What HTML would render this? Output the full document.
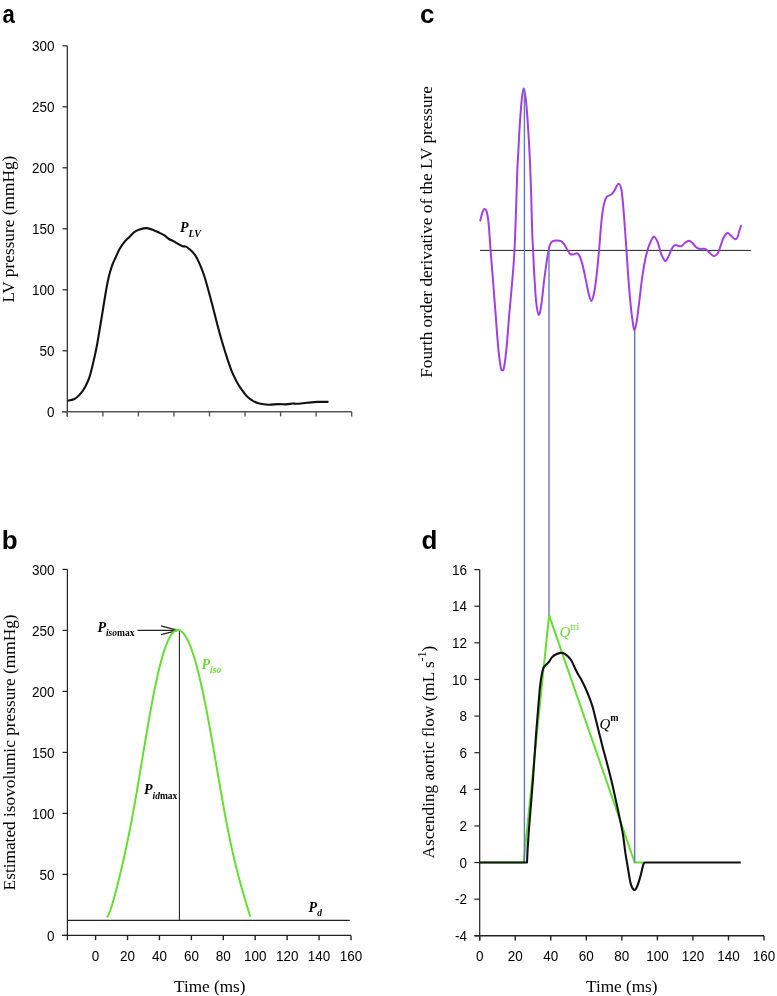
<!DOCTYPE html>
<html><head><meta charset="utf-8"><style>
html,body{margin:0;padding:0;background:#fff;}
svg{display:block;will-change:transform;}
</style></head><body>
<svg width="777" height="996" viewBox="0 0 777 996">
<rect width="777" height="996" fill="#fff"/>
<text x="2.60" y="22.80" font-family='"Liberation Sans", sans-serif' font-size="26.00" text-anchor="start" font-weight="bold" font-style="normal" fill="#000" transform="translate(2.6,0) scale(0.85,1) translate(-2.6,0)">a</text>
<text x="1.80" y="548.70" font-family='"Liberation Sans", sans-serif' font-size="26.00" text-anchor="start" font-weight="bold" font-style="normal" fill="#000" >b</text>
<text x="420.00" y="22.90" font-family='"Liberation Sans", sans-serif' font-size="26.00" text-anchor="start" font-weight="bold" font-style="normal" fill="#000" >c</text>
<text x="421.60" y="548.50" font-family='"Liberation Sans", sans-serif' font-size="26.00" text-anchor="start" font-weight="bold" font-style="normal" fill="#000" >d</text>
<line x1="67.30" y1="45.70" x2="67.30" y2="416.50" stroke="#222" stroke-width="1.20" />
<line x1="62.50" y1="411.80" x2="67.30" y2="411.80" stroke="#222" stroke-width="1.20" />
<text transform="translate(54.50,417.00) scale(0.900,1)" font-family='"Liberation Sans", sans-serif' font-size="15.00" text-anchor="end" fill="#000">0</text>
<line x1="62.50" y1="350.80" x2="67.30" y2="350.80" stroke="#222" stroke-width="1.20" />
<text transform="translate(54.50,356.00) scale(0.900,1)" font-family='"Liberation Sans", sans-serif' font-size="15.00" text-anchor="end" fill="#000">50</text>
<line x1="62.50" y1="289.80" x2="67.30" y2="289.80" stroke="#222" stroke-width="1.20" />
<text transform="translate(54.50,295.00) scale(0.900,1)" font-family='"Liberation Sans", sans-serif' font-size="15.00" text-anchor="end" fill="#000">100</text>
<line x1="62.50" y1="228.80" x2="67.30" y2="228.80" stroke="#222" stroke-width="1.20" />
<text transform="translate(54.50,234.00) scale(0.900,1)" font-family='"Liberation Sans", sans-serif' font-size="15.00" text-anchor="end" fill="#000">150</text>
<line x1="62.50" y1="167.80" x2="67.30" y2="167.80" stroke="#222" stroke-width="1.20" />
<text transform="translate(54.50,173.00) scale(0.900,1)" font-family='"Liberation Sans", sans-serif' font-size="15.00" text-anchor="end" fill="#000">200</text>
<line x1="62.50" y1="106.80" x2="67.30" y2="106.80" stroke="#222" stroke-width="1.20" />
<text transform="translate(54.50,112.00) scale(0.900,1)" font-family='"Liberation Sans", sans-serif' font-size="15.00" text-anchor="end" fill="#000">250</text>
<line x1="62.50" y1="45.80" x2="67.30" y2="45.80" stroke="#222" stroke-width="1.20" />
<text transform="translate(54.50,51.00) scale(0.900,1)" font-family='"Liberation Sans", sans-serif' font-size="15.00" text-anchor="end" fill="#000">300</text>
<line x1="62.20" y1="411.80" x2="351.70" y2="411.80" stroke="#555" stroke-width="1.60" />
<line x1="67.30" y1="411.80" x2="67.30" y2="416.40" stroke="#555" stroke-width="1.40" />
<line x1="102.85" y1="411.80" x2="102.85" y2="416.40" stroke="#555" stroke-width="1.40" />
<line x1="138.40" y1="411.80" x2="138.40" y2="416.40" stroke="#555" stroke-width="1.40" />
<line x1="173.95" y1="411.80" x2="173.95" y2="416.40" stroke="#555" stroke-width="1.40" />
<line x1="209.50" y1="411.80" x2="209.50" y2="416.40" stroke="#555" stroke-width="1.40" />
<line x1="245.05" y1="411.80" x2="245.05" y2="416.40" stroke="#555" stroke-width="1.40" />
<line x1="280.60" y1="411.80" x2="280.60" y2="416.40" stroke="#555" stroke-width="1.40" />
<line x1="316.15" y1="411.80" x2="316.15" y2="416.40" stroke="#555" stroke-width="1.40" />
<line x1="351.70" y1="411.80" x2="351.70" y2="416.40" stroke="#555" stroke-width="1.40" />
<text transform="translate(14.3,302.6) rotate(-90)" font-family='"Liberation Serif", serif' font-size="17.3" fill="#000">LV pressure (mmHg)</text>
<line x1="67.40" y1="569.40" x2="67.40" y2="940.20" stroke="#222" stroke-width="1.20" />
<line x1="62.50" y1="935.40" x2="67.40" y2="935.40" stroke="#222" stroke-width="1.20" />
<text transform="translate(54.50,940.60) scale(0.900,1)" font-family='"Liberation Sans", sans-serif' font-size="15.00" text-anchor="end" fill="#000">0</text>
<line x1="62.50" y1="874.40" x2="67.40" y2="874.40" stroke="#222" stroke-width="1.20" />
<text transform="translate(54.50,879.60) scale(0.900,1)" font-family='"Liberation Sans", sans-serif' font-size="15.00" text-anchor="end" fill="#000">50</text>
<line x1="62.50" y1="813.40" x2="67.40" y2="813.40" stroke="#222" stroke-width="1.20" />
<text transform="translate(54.50,818.60) scale(0.900,1)" font-family='"Liberation Sans", sans-serif' font-size="15.00" text-anchor="end" fill="#000">100</text>
<line x1="62.50" y1="752.40" x2="67.40" y2="752.40" stroke="#222" stroke-width="1.20" />
<text transform="translate(54.50,757.60) scale(0.900,1)" font-family='"Liberation Sans", sans-serif' font-size="15.00" text-anchor="end" fill="#000">150</text>
<line x1="62.50" y1="691.40" x2="67.40" y2="691.40" stroke="#222" stroke-width="1.20" />
<text transform="translate(54.50,696.60) scale(0.900,1)" font-family='"Liberation Sans", sans-serif' font-size="15.00" text-anchor="end" fill="#000">200</text>
<line x1="62.50" y1="630.40" x2="67.40" y2="630.40" stroke="#222" stroke-width="1.20" />
<text transform="translate(54.50,635.60) scale(0.900,1)" font-family='"Liberation Sans", sans-serif' font-size="15.00" text-anchor="end" fill="#000">250</text>
<line x1="62.50" y1="569.40" x2="67.40" y2="569.40" stroke="#222" stroke-width="1.20" />
<text transform="translate(54.50,574.60) scale(0.900,1)" font-family='"Liberation Sans", sans-serif' font-size="15.00" text-anchor="end" fill="#000">300</text>
<line x1="62.20" y1="935.40" x2="351.00" y2="935.40" stroke="#222" stroke-width="1.40" />
<line x1="95.60" y1="935.40" x2="95.60" y2="940.20" stroke="#222" stroke-width="1.40" />
<text transform="translate(95.60,960.60) scale(0.900,1)" font-family='"Liberation Sans", sans-serif' font-size="15.00" text-anchor="middle" fill="#000">0</text>
<line x1="127.52" y1="935.40" x2="127.52" y2="940.20" stroke="#222" stroke-width="1.40" />
<text transform="translate(127.52,960.60) scale(0.900,1)" font-family='"Liberation Sans", sans-serif' font-size="15.00" text-anchor="middle" fill="#000">20</text>
<line x1="159.45" y1="935.40" x2="159.45" y2="940.20" stroke="#222" stroke-width="1.40" />
<text transform="translate(159.45,960.60) scale(0.900,1)" font-family='"Liberation Sans", sans-serif' font-size="15.00" text-anchor="middle" fill="#000">40</text>
<line x1="191.38" y1="935.40" x2="191.38" y2="940.20" stroke="#222" stroke-width="1.40" />
<text transform="translate(191.38,960.60) scale(0.900,1)" font-family='"Liberation Sans", sans-serif' font-size="15.00" text-anchor="middle" fill="#000">60</text>
<line x1="223.30" y1="935.40" x2="223.30" y2="940.20" stroke="#222" stroke-width="1.40" />
<text transform="translate(223.30,960.60) scale(0.900,1)" font-family='"Liberation Sans", sans-serif' font-size="15.00" text-anchor="middle" fill="#000">80</text>
<line x1="255.22" y1="935.40" x2="255.22" y2="940.20" stroke="#222" stroke-width="1.40" />
<text transform="translate(255.22,960.60) scale(0.900,1)" font-family='"Liberation Sans", sans-serif' font-size="15.00" text-anchor="middle" fill="#000">100</text>
<line x1="287.15" y1="935.40" x2="287.15" y2="940.20" stroke="#222" stroke-width="1.40" />
<text transform="translate(287.15,960.60) scale(0.900,1)" font-family='"Liberation Sans", sans-serif' font-size="15.00" text-anchor="middle" fill="#000">120</text>
<line x1="319.07" y1="935.40" x2="319.07" y2="940.20" stroke="#222" stroke-width="1.40" />
<text transform="translate(319.07,960.60) scale(0.900,1)" font-family='"Liberation Sans", sans-serif' font-size="15.00" text-anchor="middle" fill="#000">140</text>
<line x1="351.00" y1="935.40" x2="351.00" y2="940.20" stroke="#222" stroke-width="1.40" />
<text transform="translate(351.00,960.60) scale(0.900,1)" font-family='"Liberation Sans", sans-serif' font-size="15.00" text-anchor="middle" fill="#000">160</text>
<text transform="translate(14.5,890.4) rotate(-90)" font-family='"Liberation Serif", serif' font-size="17.3" fill="#000">Estimated isovolumic pressure (mmHg)</text>
<text x="209.80" y="991.80" font-family='"Liberation Serif", serif' font-size="17.20" text-anchor="middle" font-weight="normal" font-style="normal" fill="#000" >Time (ms)</text>
<line x1="479.70" y1="569.60" x2="479.70" y2="940.40" stroke="#222" stroke-width="1.20" />
<line x1="474.40" y1="569.60" x2="479.70" y2="569.60" stroke="#222" stroke-width="1.20" />
<text transform="translate(466.90,574.80) scale(0.900,1)" font-family='"Liberation Sans", sans-serif' font-size="15.00" text-anchor="end" fill="#000">16</text>
<line x1="474.40" y1="606.22" x2="479.70" y2="606.22" stroke="#222" stroke-width="1.20" />
<text transform="translate(466.90,611.42) scale(0.900,1)" font-family='"Liberation Sans", sans-serif' font-size="15.00" text-anchor="end" fill="#000">14</text>
<line x1="474.40" y1="642.84" x2="479.70" y2="642.84" stroke="#222" stroke-width="1.20" />
<text transform="translate(466.90,648.04) scale(0.900,1)" font-family='"Liberation Sans", sans-serif' font-size="15.00" text-anchor="end" fill="#000">12</text>
<line x1="474.40" y1="679.46" x2="479.70" y2="679.46" stroke="#222" stroke-width="1.20" />
<text transform="translate(466.90,684.66) scale(0.900,1)" font-family='"Liberation Sans", sans-serif' font-size="15.00" text-anchor="end" fill="#000">10</text>
<line x1="474.40" y1="716.08" x2="479.70" y2="716.08" stroke="#222" stroke-width="1.20" />
<text transform="translate(466.90,721.28) scale(0.900,1)" font-family='"Liberation Sans", sans-serif' font-size="15.00" text-anchor="end" fill="#000">8</text>
<line x1="474.40" y1="752.70" x2="479.70" y2="752.70" stroke="#222" stroke-width="1.20" />
<text transform="translate(466.90,757.90) scale(0.900,1)" font-family='"Liberation Sans", sans-serif' font-size="15.00" text-anchor="end" fill="#000">6</text>
<line x1="474.40" y1="789.32" x2="479.70" y2="789.32" stroke="#222" stroke-width="1.20" />
<text transform="translate(466.90,794.52) scale(0.900,1)" font-family='"Liberation Sans", sans-serif' font-size="15.00" text-anchor="end" fill="#000">4</text>
<line x1="474.40" y1="825.94" x2="479.70" y2="825.94" stroke="#222" stroke-width="1.20" />
<text transform="translate(466.90,831.14) scale(0.900,1)" font-family='"Liberation Sans", sans-serif' font-size="15.00" text-anchor="end" fill="#000">2</text>
<line x1="474.40" y1="862.56" x2="479.70" y2="862.56" stroke="#222" stroke-width="1.20" />
<text transform="translate(466.90,867.76) scale(0.900,1)" font-family='"Liberation Sans", sans-serif' font-size="15.00" text-anchor="end" fill="#000">0</text>
<line x1="474.40" y1="899.18" x2="479.70" y2="899.18" stroke="#222" stroke-width="1.20" />
<text transform="translate(466.90,904.38) scale(0.900,1)" font-family='"Liberation Sans", sans-serif' font-size="15.00" text-anchor="end" fill="#000">-2</text>
<line x1="474.40" y1="935.80" x2="479.70" y2="935.80" stroke="#222" stroke-width="1.20" />
<text transform="translate(466.90,941.00) scale(0.900,1)" font-family='"Liberation Sans", sans-serif' font-size="15.00" text-anchor="end" fill="#000">-4</text>
<line x1="474.50" y1="935.80" x2="764.00" y2="935.80" stroke="#222" stroke-width="1.40" />
<line x1="479.70" y1="935.80" x2="479.70" y2="940.40" stroke="#222" stroke-width="1.40" />
<text transform="translate(479.70,960.60) scale(0.900,1)" font-family='"Liberation Sans", sans-serif' font-size="15.00" text-anchor="middle" fill="#000">0</text>
<line x1="515.24" y1="935.80" x2="515.24" y2="940.40" stroke="#222" stroke-width="1.40" />
<text transform="translate(515.24,960.60) scale(0.900,1)" font-family='"Liberation Sans", sans-serif' font-size="15.00" text-anchor="middle" fill="#000">20</text>
<line x1="550.78" y1="935.80" x2="550.78" y2="940.40" stroke="#222" stroke-width="1.40" />
<text transform="translate(550.78,960.60) scale(0.900,1)" font-family='"Liberation Sans", sans-serif' font-size="15.00" text-anchor="middle" fill="#000">40</text>
<line x1="586.32" y1="935.80" x2="586.32" y2="940.40" stroke="#222" stroke-width="1.40" />
<text transform="translate(586.32,960.60) scale(0.900,1)" font-family='"Liberation Sans", sans-serif' font-size="15.00" text-anchor="middle" fill="#000">60</text>
<line x1="621.86" y1="935.80" x2="621.86" y2="940.40" stroke="#222" stroke-width="1.40" />
<text transform="translate(621.86,960.60) scale(0.900,1)" font-family='"Liberation Sans", sans-serif' font-size="15.00" text-anchor="middle" fill="#000">80</text>
<line x1="657.40" y1="935.80" x2="657.40" y2="940.40" stroke="#222" stroke-width="1.40" />
<text transform="translate(657.40,960.60) scale(0.900,1)" font-family='"Liberation Sans", sans-serif' font-size="15.00" text-anchor="middle" fill="#000">100</text>
<line x1="692.94" y1="935.80" x2="692.94" y2="940.40" stroke="#222" stroke-width="1.40" />
<text transform="translate(692.94,960.60) scale(0.900,1)" font-family='"Liberation Sans", sans-serif' font-size="15.00" text-anchor="middle" fill="#000">120</text>
<line x1="728.48" y1="935.80" x2="728.48" y2="940.40" stroke="#222" stroke-width="1.40" />
<text transform="translate(728.48,960.60) scale(0.900,1)" font-family='"Liberation Sans", sans-serif' font-size="15.00" text-anchor="middle" fill="#000">140</text>
<line x1="764.02" y1="935.80" x2="764.02" y2="940.40" stroke="#222" stroke-width="1.40" />
<text transform="translate(764.02,960.60) scale(0.900,1)" font-family='"Liberation Sans", sans-serif' font-size="15.00" text-anchor="middle" fill="#000">160</text>
<text x="621.80" y="991.80" font-family='"Liberation Serif", serif' font-size="17.20" text-anchor="middle" font-weight="normal" font-style="normal" fill="#000" >Time (ms)</text>
<text transform="translate(434.3,858.4) rotate(-90)" font-family='"Liberation Serif", serif' font-size="17.2" fill="#000">Ascending aortic flow (mL s<tspan font-size="12" dy="-8">-1</tspan><tspan dy="8">)</tspan></text>
<text transform="translate(432.2,377.8) rotate(-90)" font-family='"Liberation Serif", serif' font-size="17.3" fill="#000">Fourth order derivative of the LV pressure</text>
<line x1="480.00" y1="250.40" x2="750.80" y2="250.40" stroke="#222" stroke-width="1.00" />
<path d="M480.30,220.50 C480.68,219.07 481.90,213.80 482.60,211.90 C483.30,210.00 483.80,209.10 484.50,209.10 C485.20,209.10 486.10,209.37 486.80,211.90 C487.50,214.43 488.07,217.90 488.70,224.30 C489.33,230.70 489.87,240.75 490.60,250.30 C491.33,259.85 492.27,270.98 493.10,281.60 C493.93,292.22 494.73,302.88 495.60,314.00 C496.47,325.12 497.43,339.40 498.30,348.30 C499.17,357.20 500.13,363.73 500.80,367.40 C501.47,371.07 501.77,370.30 502.30,370.30 C502.83,370.30 503.30,371.07 504.00,367.40 C504.70,363.73 505.62,357.20 506.50,348.30 C507.38,339.40 508.35,325.12 509.30,314.00 C510.25,302.88 511.33,292.22 512.20,281.60 C513.07,270.98 513.80,264.02 514.50,250.30 C515.20,236.58 515.93,212.62 516.40,199.30 C516.87,185.98 516.98,178.23 517.30,170.40 C517.62,162.57 517.98,158.33 518.30,152.30 C518.62,146.27 518.85,140.23 519.20,134.20 C519.55,128.17 519.95,122.12 520.40,116.10 C520.85,110.08 521.35,102.75 521.90,98.10 C522.45,93.45 523.07,88.20 523.70,88.20 C524.33,88.20 525.10,93.45 525.70,98.10 C526.30,102.75 526.83,110.08 527.30,116.10 C527.77,122.12 528.13,128.17 528.50,134.20 C528.87,140.23 529.20,146.27 529.50,152.30 C529.80,158.33 530.00,162.57 530.30,170.40 C530.60,178.23 531.00,189.37 531.30,199.30 C531.60,209.23 531.80,221.45 532.10,230.00 C532.40,238.55 532.72,242.88 533.10,250.60 C533.48,258.32 533.88,267.72 534.40,276.30 C534.92,284.88 535.47,295.67 536.20,302.10 C536.93,308.53 537.93,314.57 538.80,314.90 C539.67,315.23 540.53,309.67 541.40,304.10 C542.27,298.53 543.15,288.37 544.00,281.50 C544.85,274.63 545.73,268.13 546.50,262.90 C547.27,257.67 548.00,253.18 548.60,250.10 C549.20,247.02 549.42,245.90 550.10,244.40 C550.78,242.90 551.58,241.75 552.70,241.10 C553.82,240.45 555.43,240.50 556.80,240.50 C558.17,240.50 559.70,240.53 560.90,241.10 C562.10,241.67 562.97,242.48 564.00,243.90 C565.03,245.32 566.07,247.93 567.10,249.60 C568.13,251.27 569.17,253.08 570.20,253.90 C571.23,254.72 572.18,254.62 573.30,254.50 C574.42,254.38 575.87,253.00 576.90,253.20 C577.93,253.40 578.55,253.73 579.50,255.70 C580.45,257.67 581.57,261.05 582.60,265.00 C583.63,268.95 584.68,274.60 585.70,279.40 C586.72,284.20 587.77,290.20 588.70,293.80 C589.63,297.40 590.43,301.00 591.30,301.00 C592.17,301.00 593.03,297.92 593.90,293.80 C594.77,289.68 595.65,283.50 596.50,276.30 C597.35,269.10 598.15,259.98 599.00,250.60 C599.85,241.22 600.77,227.78 601.60,220.00 C602.43,212.22 603.12,207.78 604.00,203.90 C604.88,200.02 605.68,198.25 606.90,196.70 C608.12,195.15 610.03,195.67 611.30,194.60 C612.57,193.53 613.30,192.10 614.50,190.30 C615.70,188.50 617.35,183.93 618.50,183.80 C619.65,183.67 620.60,185.62 621.40,189.50 C622.20,193.38 622.72,200.68 623.30,207.10 C623.88,213.52 624.37,220.77 624.90,228.00 C625.43,235.23 625.97,242.73 626.50,250.50 C627.03,258.27 627.48,266.30 628.10,274.60 C628.72,282.90 629.45,292.53 630.20,300.30 C630.95,308.07 631.87,316.25 632.60,321.20 C633.33,326.15 633.87,330.27 634.60,330.00 C635.33,329.73 636.20,324.55 637.00,319.60 C637.80,314.65 638.47,307.80 639.40,300.30 C640.33,292.80 641.53,281.83 642.60,274.60 C643.67,267.37 644.73,261.72 645.80,256.90 C646.87,252.08 647.67,249.05 649.00,245.70 C650.33,242.35 652.33,237.33 653.80,236.80 C655.27,236.27 656.58,239.68 657.80,242.50 C659.02,245.32 659.88,250.62 661.10,253.70 C662.32,256.78 663.93,260.42 665.10,261.00 C666.27,261.58 667.08,259.03 668.10,257.20 C669.12,255.37 670.25,251.88 671.20,250.00 C672.15,248.12 673.03,246.75 673.80,245.90 C674.57,245.05 675.03,244.90 675.80,244.90 C676.57,244.90 677.45,245.70 678.40,245.90 C679.35,246.10 680.38,246.62 681.50,246.10 C682.62,245.58 683.82,243.70 685.10,242.80 C686.38,241.90 687.92,240.62 689.20,240.70 C690.48,240.78 691.68,242.27 692.80,243.30 C693.92,244.33 694.87,245.98 695.90,246.90 C696.93,247.82 697.80,248.48 699.00,248.80 C700.20,249.12 701.90,248.68 703.10,248.80 C704.30,248.92 705.17,248.87 706.20,249.50 C707.23,250.13 708.02,251.48 709.30,252.60 C710.58,253.72 712.53,256.03 713.90,256.20 C715.27,256.37 716.55,254.80 717.50,253.60 C718.45,252.40 718.73,251.32 719.60,249.00 C720.47,246.68 721.77,242.02 722.70,239.70 C723.63,237.38 724.35,236.22 725.20,235.10 C726.05,233.98 726.85,232.92 727.80,233.00 C728.75,233.08 729.70,234.57 730.90,235.60 C732.10,236.63 733.88,238.95 735.00,239.20 C736.12,239.45 736.92,238.38 737.60,237.10 C738.28,235.82 738.53,233.38 739.10,231.50 C739.67,229.62 740.68,226.75 741.00,225.80" fill="none" stroke="#a040e0" stroke-width="2" stroke-linejoin="round" stroke-linecap="round"/>
<path d="M67.50,400.80 C68.57,400.55 71.90,400.28 73.90,399.30 C75.90,398.32 77.65,396.92 79.50,394.90 C81.35,392.88 83.35,390.13 85.00,387.20 C86.65,384.27 88.18,380.77 89.40,377.30 C90.62,373.83 91.40,369.98 92.30,366.40 C93.20,362.82 94.00,359.45 94.80,355.80 C95.60,352.15 96.33,348.63 97.10,344.50 C97.87,340.37 98.60,335.75 99.40,331.00 C100.20,326.25 101.07,321.08 101.90,316.00 C102.73,310.92 103.63,305.17 104.40,300.50 C105.17,295.83 105.83,291.68 106.50,288.00 C107.17,284.32 107.73,281.32 108.40,278.40 C109.07,275.48 109.77,272.97 110.50,270.50 C111.23,268.03 111.97,265.72 112.80,263.60 C113.63,261.48 114.42,260.15 115.50,257.80 C116.58,255.45 117.83,252.12 119.30,249.50 C120.77,246.88 122.57,244.23 124.30,242.10 C126.03,239.97 128.05,238.35 129.70,236.70 C131.35,235.05 132.55,233.40 134.20,232.20 C135.85,231.00 137.50,230.18 139.60,229.50 C141.70,228.82 144.38,227.95 146.80,228.10 C149.22,228.25 151.90,229.57 154.10,230.40 C156.30,231.23 158.27,232.27 160.00,233.10 C161.73,233.93 163.00,234.42 164.50,235.40 C166.00,236.38 167.50,238.03 169.00,239.00 C170.50,239.97 172.00,240.38 173.50,241.20 C175.00,242.02 176.50,243.07 178.00,243.90 C179.50,244.73 181.15,245.75 182.50,246.20 C183.85,246.65 184.90,246.08 186.10,246.60 C187.30,247.12 188.50,248.25 189.70,249.30 C190.90,250.35 192.25,251.70 193.30,252.90 C194.35,254.10 195.10,255.00 196.00,256.50 C196.90,258.00 197.80,259.95 198.70,261.90 C199.60,263.85 200.50,265.93 201.40,268.20 C202.30,270.47 203.20,272.78 204.10,275.50 C205.00,278.22 205.45,279.68 206.80,284.50 C208.15,289.32 210.45,297.73 212.20,304.40 C213.95,311.07 215.62,318.15 217.30,324.50 C218.98,330.85 220.63,336.82 222.30,342.50 C223.97,348.18 225.63,353.57 227.30,358.60 C228.97,363.63 230.45,368.35 232.30,372.70 C234.15,377.05 236.47,381.40 238.40,384.70 C240.33,388.00 242.35,390.45 243.90,392.50 C245.45,394.55 246.20,395.60 247.70,397.00 C249.20,398.40 250.97,399.82 252.90,400.90 C254.83,401.98 256.73,402.87 259.30,403.50 C261.87,404.13 265.08,404.60 268.30,404.70 C271.52,404.80 275.60,404.15 278.60,404.10 C281.60,404.05 283.93,404.50 286.30,404.40 C288.67,404.30 291.08,403.60 292.80,403.50 C294.52,403.40 294.25,403.92 296.60,403.80 C298.95,403.68 303.47,403.12 306.90,402.80 C310.33,402.48 314.62,402.05 317.20,401.90 C319.78,401.75 320.52,401.90 322.40,401.90 C324.28,401.90 327.48,401.90 328.50,401.90" fill="none" stroke="#111" stroke-width="2.1" stroke-linejoin="round"/>
<text x="180.0" y="231.9" font-family='"Liberation Serif", serif' font-size="14" font-weight="bold" font-style="italic">P<tspan font-size="10" dy="4.7">LV</tspan></text>
<line x1="67.40" y1="920.40" x2="349.80" y2="920.40" stroke="#222" stroke-width="1.20" />
<line x1="179.40" y1="630.40" x2="179.40" y2="920.40" stroke="#222" stroke-width="1.10" />
<line x1="137.60" y1="630.30" x2="178.00" y2="630.30" stroke="#222" stroke-width="1.30" />
<path d="M161,625.9 L178,630.3 L161,634.6" fill="none" stroke="#222" stroke-width="1.3"/>
<path d="M107.10,917.35 L107.90,916.07 L108.70,914.43 L109.50,912.50 L110.30,910.32 L111.10,907.94 L111.90,905.40 L112.70,902.72 L113.50,899.93 L114.30,897.05 L115.10,894.10 L115.90,891.08 L116.70,888.00 L117.50,884.87 L118.30,881.70 L119.10,878.48 L119.90,875.21 L120.70,871.89 L121.50,868.52 L122.30,865.10 L123.10,861.63 L123.90,858.09 L124.70,854.49 L125.50,850.83 L126.30,847.09 L127.10,843.29 L127.90,839.42 L128.70,835.47 L129.50,831.45 L130.30,827.35 L131.10,823.19 L131.90,818.95 L132.70,814.64 L133.50,810.26 L134.30,805.81 L135.10,801.31 L135.90,796.75 L136.70,792.14 L137.50,787.48 L138.30,782.78 L139.10,778.04 L139.90,773.28 L140.70,768.50 L141.50,763.70 L142.30,758.89 L143.10,754.08 L143.90,749.28 L144.70,744.50 L145.50,739.74 L146.30,735.01 L147.10,730.31 L147.90,725.66 L148.70,721.07 L149.50,716.53 L150.30,712.06 L151.10,707.66 L151.90,703.34 L152.70,699.11 L153.50,694.97 L154.30,690.92 L155.10,686.98 L155.90,683.15 L156.70,679.43 L157.50,675.82 L158.30,672.34 L159.10,668.98 L159.90,665.74 L160.70,662.64 L161.50,659.67 L162.30,656.84 L163.10,654.14 L163.90,651.59 L164.70,649.17 L165.50,646.90 L166.30,644.76 L167.10,642.78 L167.90,640.93 L168.70,639.24 L169.50,637.68 L170.30,636.27 L171.10,635.01 L171.90,633.89 L172.70,632.91 L173.50,632.08 L174.30,631.39 L175.10,630.84 L175.90,630.43 L176.70,630.16 L177.50,630.03 L178.30,630.04 L179.10,630.18 L179.90,630.47 L180.70,630.88 L181.50,631.43 L182.30,632.12 L183.10,632.94 L183.90,633.88 L184.70,634.96 L185.50,636.17 L186.30,637.51 L187.10,638.97 L187.90,640.56 L188.70,642.28 L189.50,644.12 L190.30,646.09 L191.10,648.18 L191.90,650.39 L192.70,652.72 L193.50,655.17 L194.30,657.74 L195.10,660.43 L195.90,663.23 L196.70,666.14 L197.50,669.17 L198.30,672.31 L199.10,675.55 L199.90,678.91 L200.70,682.36 L201.50,685.92 L202.30,689.57 L203.10,693.32 L203.90,697.15 L204.70,701.08 L205.50,705.09 L206.30,709.18 L207.10,713.35 L207.90,717.59 L208.70,721.89 L209.50,726.26 L210.30,730.68 L211.10,735.15 L211.90,739.66 L212.70,744.22 L213.50,748.81 L214.30,753.42 L215.10,758.05 L215.90,762.70 L216.70,767.35 L217.50,772.01 L218.30,776.65 L219.10,781.29 L219.90,785.90 L220.70,790.49 L221.50,795.05 L222.30,799.56 L223.10,804.03 L223.90,808.45 L224.70,812.82 L225.50,817.12 L226.30,821.36 L227.10,825.53 L227.90,829.62 L228.70,833.64 L229.50,837.57 L230.30,841.43 L231.10,845.20 L231.90,848.89 L232.70,852.49 L233.50,856.01 L234.30,859.45 L235.10,862.81 L235.90,866.09 L236.70,869.29 L237.50,872.43 L238.30,875.50 L239.10,878.51 L239.90,881.46 L240.70,884.36 L241.50,887.22 L242.30,890.03 L243.10,892.82 L243.90,895.57 L244.70,898.30 L245.50,901.00 L246.30,903.68 L247.10,906.34 L247.90,908.98 L248.70,911.59 L249.50,914.17 L250.30,916.70" fill="none" stroke="#66dd33" stroke-width="2"/>
<text x="97.4" y="631.9" font-family='"Liberation Serif", serif' font-size="14" font-weight="bold" font-style="italic">P<tspan font-size="9.5" dy="3.6">iso</tspan><tspan font-style="normal" font-size="9.5">max</tspan></text>
<text x="201.5" y="668.6" font-family='"Liberation Serif", serif' font-size="14" font-weight="bold" font-style="italic" fill="#66dd33">P<tspan font-size="9.5" dy="4.4">iso</tspan></text>
<text x="144.0" y="794.3" font-family='"Liberation Serif", serif' font-size="14" font-weight="bold" font-style="italic">P<tspan font-size="9.5" dy="4.2">id</tspan><tspan font-style="normal" font-size="9.5">max</tspan></text>
<text x="308.6" y="911.6" font-family='"Liberation Serif", serif' font-size="14" font-weight="bold" font-style="italic">P<tspan font-size="9.5" dy="4.2">d</tspan></text>
<path d="M480.00,862.56 L523.60,862.56 L549.10,615.40 L634.70,862.56 L643.40,862.56" fill="none" stroke="#66dd33" stroke-width="2" stroke-linejoin="miter"/>
<line x1="524.40" y1="88.50" x2="524.40" y2="862.50" stroke="#6676c4" stroke-width="1.40" />
<line x1="549.00" y1="250.30" x2="549.00" y2="615.50" stroke="#6676c4" stroke-width="1.40" />
<line x1="634.70" y1="330.00" x2="634.70" y2="862.50" stroke="#6676c4" stroke-width="1.40" />
<path d="M480,862.56 L527,862.56 L527.00,862.40 C527.12,859.98 527.32,854.17 527.70,847.90 C528.08,841.63 528.72,832.50 529.30,824.80 C529.88,817.10 530.58,809.40 531.20,801.70 C531.82,794.00 532.43,786.30 533.00,778.60 C533.57,770.90 534.07,763.20 534.60,755.50 C535.13,747.80 535.62,740.10 536.20,732.40 C536.78,724.70 537.52,716.37 538.10,709.30 C538.68,702.23 539.23,694.90 539.70,690.00 C540.17,685.10 540.48,682.87 540.90,679.90 C541.32,676.93 541.77,674.23 542.20,672.20 C542.63,670.17 542.97,668.83 543.50,667.70 C544.03,666.57 544.53,666.32 545.40,665.40 C546.27,664.48 547.62,663.53 548.70,662.20 C549.78,660.87 550.73,658.68 551.90,657.40 C553.07,656.12 554.20,655.25 555.70,654.50 C557.20,653.75 559.40,653.02 560.90,652.90 C562.40,652.78 563.42,653.10 564.70,653.80 C565.98,654.50 567.42,655.87 568.60,657.10 C569.78,658.33 570.73,659.33 571.80,661.20 C572.87,663.07 573.92,666.05 575.00,668.30 C576.08,670.55 577.35,672.98 578.30,674.70 C579.25,676.42 579.50,676.35 580.70,678.60 C581.90,680.85 584.03,685.00 585.50,688.20 C586.97,691.40 588.28,694.58 589.50,697.80 C590.72,701.02 591.72,703.75 592.80,707.50 C593.88,711.25 594.93,716.02 596.00,720.30 C597.07,724.58 598.00,728.38 599.20,733.20 C600.40,738.02 601.73,743.58 603.20,749.20 C604.67,754.82 606.53,761.27 608.00,766.90 C609.47,772.53 610.80,777.92 612.00,783.00 C613.20,788.08 613.98,791.88 615.20,797.40 C616.42,802.92 618.02,809.97 619.30,816.10 C620.58,822.23 621.90,828.17 622.90,834.20 C623.90,840.23 624.50,846.88 625.30,852.30 C626.10,857.72 626.80,861.48 627.70,866.70 C628.60,871.92 629.60,879.73 630.70,883.60 C631.80,887.47 633.20,889.50 634.30,889.90 C635.40,890.30 636.28,888.25 637.30,886.00 C638.32,883.75 639.38,880.02 640.40,876.40 C641.42,872.78 642.60,866.62 643.40,864.30 C644.20,861.98 644.90,862.80 645.20,862.50 L740.8,862.56" fill="none" stroke="#111" stroke-width="2.1" stroke-linejoin="round"/>
<text x="559.5" y="637.2" font-family='"Liberation Serif", serif' font-size="15" font-style="italic" fill="#66dd33">Q<tspan font-size="10" font-style="normal" dy="-7.5">tri</tspan></text>
<text x="599.5" y="729.2" font-family='"Liberation Serif", serif' font-size="15" font-style="italic" fill="#000">Q<tspan font-size="10" font-style="normal" font-weight="bold" dy="-8">m</tspan></text>
</svg>
</body></html>
